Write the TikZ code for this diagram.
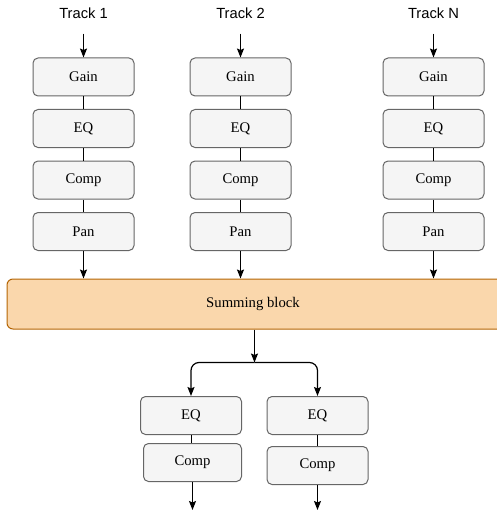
\documentclass[tikz,border=0pt]{standalone}
\usepackage{fontspec}
\setmainfont{Liberation Serif}
\newfontfamily\labelfont{Liberation Sans}
\usetikzlibrary{positioning, arrows.meta}

\definecolor{boxfill}{HTML}{F5F5F5}
\definecolor{boxline}{HTML}{666666}
\definecolor{sumfill}{HTML}{FAD7AC}
\definecolor{sumline}{HTML}{B46504}

\tikzset{
  block/.style = {draw=boxline, fill=boxfill, rounded corners=5pt, line width=1pt,
                  minimum width=101pt, minimum height=38pt, inner sep=0pt,
                  font=\fontsize{14.7}{17}\selectfont},
  sumblock/.style = {draw=sumline, fill=sumfill, rounded corners=6pt, line width=1pt,
                     minimum width=497pt, minimum height=50pt, inner sep=0pt,
                     font=\fontsize{14.7}{17}\selectfont},
  track/.style = {minimum height=40pt, inner sep=0pt, font=\labelfont\fontsize{14.7}{17}\selectfont},
  link/.style = {line width=1pt},
}

\begin{document}
\begin{tikzpicture}[>={Stealth[length=9pt,width=7pt,inset=1.5pt]}, node distance = 12.5pt, line width=1.2pt]
            \useasboundingbox (0,0) rectangle (496pt,-516pt);

            % input tracks
            \node[track] (t1) at (83.5pt,-13pt)  {Track 1};
            \node[track] (t2) at (240.5pt,-13pt) {Track 2};
            \node[track] (tN) at (433.5pt,-13pt) {Track N};

            \node[block] (gain1) at (83.5pt,-77pt) {Gain};
            \node[block] (eq1)   [below = of gain1] {EQ};
            \node[block] (comp1) [below = of eq1]   {Comp};
            \node[block] (pan1)  [below = of comp1] {Pan};

            \node[block] (gain2) at (240.5pt,-77pt) {Gain};
            \node[block] (eq2)   [below = of gain2] {EQ};
            \node[block] (comp2) [below = of eq2]   {Comp};
            \node[block] (pan2)  [below = of comp2] {Pan};

            \node[block] (gainN) at (433.5pt,-77pt) {Gain};
            \node[block] (eqN)   [below = of gainN] {EQ};
            \node[block] (compN) [below = of eqN]   {Comp};
            \node[block] (panN)  [below = of compN] {Pan};

            % mix bus
            \node[sumblock] (sum) at (255.5pt,-304pt) {\hspace*{-5pt}Summing block};
            \coordinate[below = 33pt of sum.south, xshift=-1pt] (split);

            \node[block] (busEqL)   at (191pt,-415.5pt) {EQ};
            \node[block, minimum width=98pt, xshift=1.5pt] (busCompL) [below = 8pt of busEqL] {Comp};
            \node[block] (busEqR)   at (317.5pt,-415.5pt) {EQ};
            \node[block] (busCompR) [below = 11pt of busEqR] {Comp};

            \coordinate[below = 28pt of busCompL.south] (outL);
            \coordinate[below = 25pt of busCompR.south] (outR);

            \path[->]
              (t1) edge (gain1)
              (t2) edge (gain2)
              (tN) edge (gainN)
              (pan1) edge (pan1 |- sum.north)
              (pan2) edge (pan2 |- sum.north)
              (panN) edge (panN |- sum.north)
              (sum.south -| split) edge (split)
              (busCompL) edge (outL)
              (busCompR) edge (outR)
            ;

            \path[link]
              (gain1) edge (eq1)  (eq1) edge (comp1)  (comp1) edge (pan1)
              (gain2) edge (eq2)  (eq2) edge (comp2)  (comp2) edge (pan2)
              (gainN) edge (eqN)  (eqN) edge (compN)  (compN) edge (panN)
              (busEqL) edge (busEqL |- busCompL.north)
              (busEqR) edge (busCompR)
            ;

            \draw[->, rounded corners=8pt] (split) -| (busEqL);
            \draw[->, rounded corners=8pt] (split) -| (busEqR);
          \end{tikzpicture}
\end{document}
